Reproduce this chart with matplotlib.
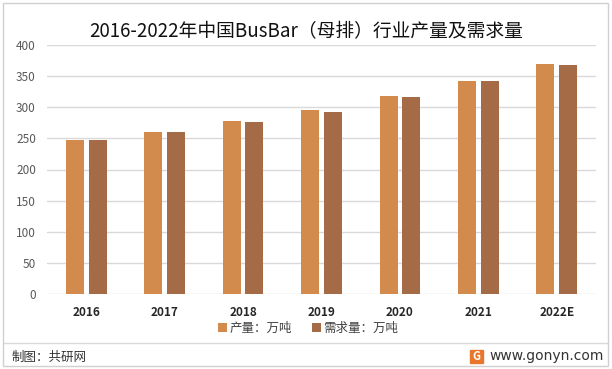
import matplotlib.pyplot as plt
import numpy as np
from matplotlib.patches import Rectangle

plt.rcParams['font.family'] = ['Noto Sans CJK SC', 'DejaVu Sans']

# Datos
anios = ['2016', '2017', '2018', '2019', '2020', '2021', '2022E']
produccion = [247, 261, 278, 295, 318, 342, 369]
demanda = [247, 261, 276, 293, 316, 342, 368]
etiquetas = ['产量：万吨', '需求量：万吨']
col_prod = '#D38B4D'
col_dem = '#A56B46'

fig = plt.figure(figsize=(6.12, 3.69), dpi=100)
ax = fig.add_axes([47 / 612, 1 - 294 / 369, 549 / 612, 249 / 369])

x = np.arange(len(anios))
ancho = 0.23
ax.bar(x - 0.145, produccion, ancho, color=col_prod, label=etiquetas[0], zorder=3)
ax.bar(x + 0.145, demanda, ancho, color=col_dem, label=etiquetas[1], zorder=3)

ax.set_xlim(-0.5, len(anios) - 0.5)
ax.set_ylim(0, 400)
ax.set_yticks(range(0, 401, 50))
ax.yaxis.grid(True, color='#D9D9D9', linewidth=1, zorder=0)
for s in ax.spines.values():
    s.set_visible(False)
ax.tick_params(axis='both', length=0)
ax.tick_params(axis='y', labelsize=8.5, labelcolor='#595959', pad=8)
ax.set_xticks(x)
ax.set_xticklabels(anios, fontsize=8.5, fontweight='bold', color='#262626')
ax.tick_params(axis='x', pad=9)

fig.text(0.5, 1 - 32 / 369, '2016-2022年中国BusBar（母排）行业产量及需求量',
         ha='center', va='center', fontsize=13.5, color='#111111')

fig.legend(loc='center', bbox_to_anchor=(308 / 612, 1 - 328 / 369), ncol=2, frameon=False,
           fontsize=9, handlelength=0.7, handleheight=0.7, handletextpad=0.2,
           columnspacing=1.6, labelcolor='#404040')

# Pie de página
fig.add_artist(plt.Line2D([4 / 612, 608 / 612], [1 - 343 / 369] * 2, color='#D9D9D9', lw=1))
fig.text(12 / 612, 1 - 357 / 369, '制图：共研网', ha='left', va='center', fontsize=9, color='#333333')
fig.text(604 / 612, 1 - 356 / 369, 'www.gonyn.com', ha='right', va='center', fontsize=10, color='#333333',
         family=['DejaVu Sans'])
fig.add_artist(Rectangle((470 / 612, 1 - 363 / 369), 13 / 612, 13 / 369, color='#E8772E'))
fig.text(476.5 / 612, 1 - 356.5 / 369, 'G', ha='center', va='center', fontsize=8, color='white',
         fontweight='bold')

# Borde exterior
fig.add_artist(Rectangle((3 / 612, 3 / 369), 605 / 612, 363 / 369, fill=False, edgecolor='#D0D0D0', lw=1))

fig.savefig('out.png', dpi=100)
